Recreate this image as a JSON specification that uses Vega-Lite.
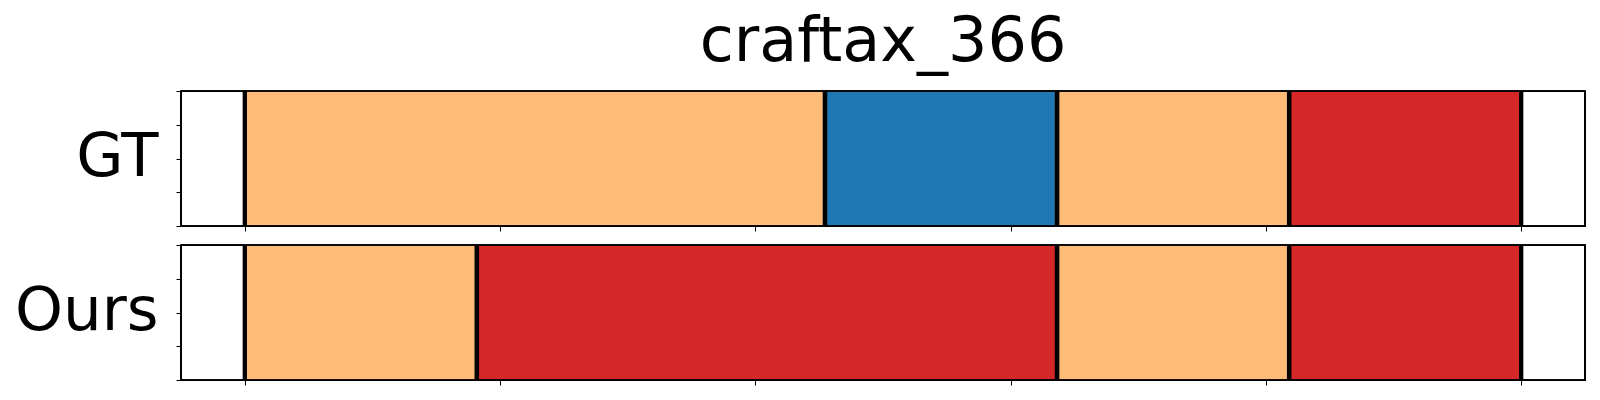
{
  "$schema": "https://vega.github.io/schema/vega-lite/v6.json",
  "background": "white",
  "padding": {"left": 13, "top": 11, "right": 5, "bottom": 5},
  "title": {"text": "craftax_366", "fontSize": 62, "font": "DejaVu Sans", "fontWeight": "normal", "anchor": "middle", "color": "black", "offset": 14, "dx": 83},
  "datasets": {
    "segments": [
      {"row": "GT", "label": "phase A", "start": 0, "end": 50},
      {"row": "GT", "label": "phase B", "start": 50, "end": 70},
      {"row": "GT", "label": "phase A", "start": 70, "end": 90},
      {"row": "GT", "label": "phase C", "start": 90, "end": 110},
      {"row": "Ours", "label": "phase A", "start": 0, "end": 20},
      {"row": "Ours", "label": "phase C", "start": 20, "end": 70},
      {"row": "Ours", "label": "phase A", "start": 70, "end": 90},
      {"row": "Ours", "label": "phase C", "start": 90, "end": 110}
    ]
  },
  "config": {
    "font": "DejaVu Sans",
    "view": {"stroke": "black", "strokeWidth": 1.2},
    "axis": {"labels": false, "grid": false, "domain": false, "ticks": true, "tickSize": 5, "tickColor": "black", "tickWidth": 1}
  },
  "spacing": 9,
  "vconcat": [
    {
      "width": 1404,
      "height": 135,
      "data": {"name": "segments"},
      "transform": [{"filter": "datum.row === 'GT'"}],
      "encoding": {
        "x": {"field": "start", "type": "quantitative", "scale": {"domain": [-5.5, 115.5], "nice": false, "zero": false}, "axis": {"values": [0, 22, 44, 66, 88, 110], "title": null}}
      },
      "layer": [
        {
          "mark": {"type": "rect"},
          "encoding": {
            "x2": {"field": "end"},
            "y": {"datum": 0, "type": "quantitative", "scale": {"domain": [0, 1], "nice": false}, "axis": {"values": [0, 0.25, 0.5, 0.75, 1], "title": "GT", "titleAngle": 0, "titleFontSize": 61, "titleFontWeight": "normal", "titleColor": "black", "titleAlign": "right", "titleBaseline": "alphabetic", "titleX": -23, "titleY": 84, "titleFont": "DejaVu Sans"}},
            "y2": {"datum": 1},
            "color": {"field": "label", "type": "nominal", "scale": {"domain": ["phase A", "phase B", "phase C"], "range": ["#ffbb78", "#1f77b4", "#d62728"]}, "legend": null}
          }
        },
        {"mark": {"type": "rule", "color": "black", "strokeWidth": 4.3}, "encoding": {"x": {"field": "start", "type": "quantitative"}}},
        {"mark": {"type": "rule", "color": "black", "strokeWidth": 4.3}, "encoding": {"x": {"field": "end", "type": "quantitative"}}},
        {"mark": {"type": "rect", "fill": null, "fillOpacity": 0, "stroke": "black", "strokeWidth": 1.2}, "encoding": {"x": {"datum": -5.5, "type": "quantitative", "axis": {"values": [0, 22, 44, 66, 88, 110], "title": null}}, "x2": {"datum": 115.5}, "y": {"datum": 0, "type": "quantitative", "axis": {"values": [0, 0.25, 0.5, 0.75, 1], "title": "GT", "titleAngle": 0, "titleFontSize": 61, "titleFontWeight": "normal", "titleColor": "black", "titleAlign": "right", "titleBaseline": "alphabetic", "titleX": -23, "titleY": 84, "titleFont": "DejaVu Sans"}}, "y2": {"datum": 1}}}
      ]
    },
    {
      "width": 1404,
      "height": 135,
      "data": {"name": "segments"},
      "transform": [{"filter": "datum.row === 'Ours'"}],
      "encoding": {
        "x": {"field": "start", "type": "quantitative", "scale": {"domain": [-5.5, 115.5], "nice": false, "zero": false}, "axis": {"values": [0, 22, 44, 66, 88, 110], "title": null}}
      },
      "layer": [
        {
          "mark": {"type": "rect"},
          "encoding": {
            "x2": {"field": "end"},
            "y": {"datum": 0, "type": "quantitative", "scale": {"domain": [0, 1], "nice": false}, "axis": {"values": [0, 0.25, 0.5, 0.75, 1], "title": "Ours", "titleAngle": 0, "titleFontSize": 61, "titleFontWeight": "normal", "titleColor": "black", "titleAlign": "right", "titleBaseline": "alphabetic", "titleX": -23, "titleY": 84, "titleFont": "DejaVu Sans"}},
            "y2": {"datum": 1},
            "color": {"field": "label", "type": "nominal", "scale": {"domain": ["phase A", "phase B", "phase C"], "range": ["#ffbb78", "#1f77b4", "#d62728"]}, "legend": null}
          }
        },
        {"mark": {"type": "rule", "color": "black", "strokeWidth": 4.3}, "encoding": {"x": {"field": "start", "type": "quantitative"}}},
        {"mark": {"type": "rule", "color": "black", "strokeWidth": 4.3}, "encoding": {"x": {"field": "end", "type": "quantitative"}}},
        {"mark": {"type": "rect", "fill": null, "fillOpacity": 0, "stroke": "black", "strokeWidth": 1.2}, "encoding": {"x": {"datum": -5.5, "type": "quantitative", "axis": {"values": [0, 22, 44, 66, 88, 110], "title": null}}, "x2": {"datum": 115.5}, "y": {"datum": 0, "type": "quantitative", "axis": {"values": [0, 0.25, 0.5, 0.75, 1], "title": "Ours", "titleAngle": 0, "titleFontSize": 61, "titleFontWeight": "normal", "titleColor": "black", "titleAlign": "right", "titleBaseline": "alphabetic", "titleX": -23, "titleY": 84, "titleFont": "DejaVu Sans"}}, "y2": {"datum": 1}}}
      ]
    }
  ]
}
